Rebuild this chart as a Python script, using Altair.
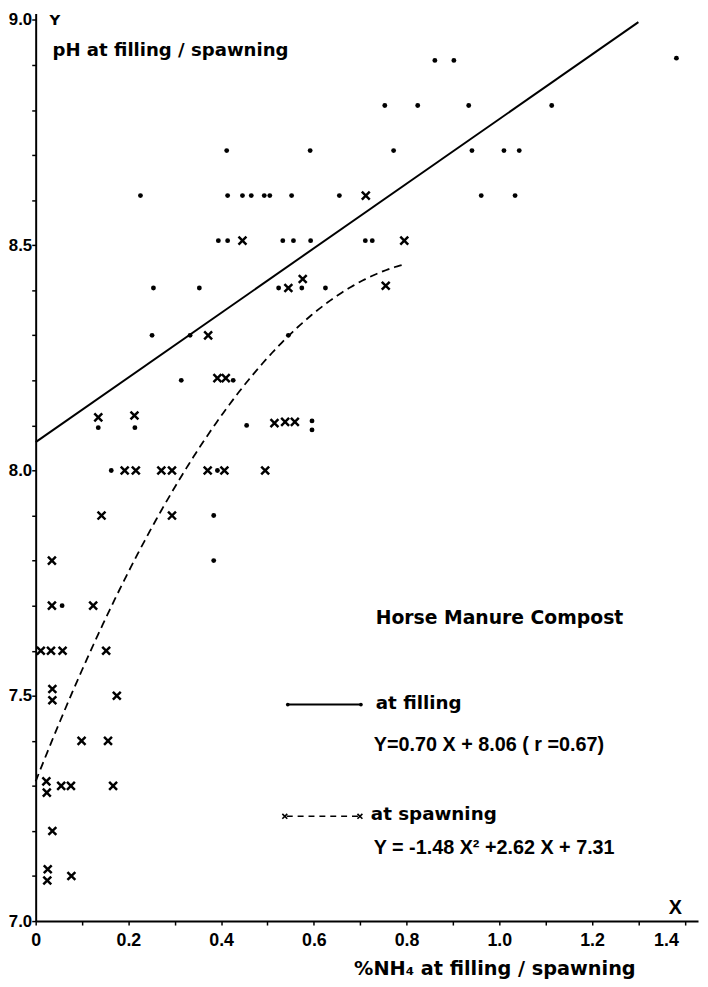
import altair as alt
import pandas as pd

# ---------------- data ----------------
# at filling (dots)
FILL_X = [0.861, 0.902, 1.382,
          0.753, 0.824, 0.934, 1.113,
          0.412, 0.592, 0.772, 0.941, 1.010, 1.043,
          0.226, 0.414, 0.446, 0.465, 0.493, 0.505, 0.552, 0.655, 0.961, 1.034,
          0.394, 0.414, 0.533, 0.556, 0.593, 0.711, 0.726,
          0.254, 0.353, 0.524, 0.574, 0.625,
          0.251, 0.333, 0.545,
          0.314, 0.426,
          0.135, 0.214, 0.455, 0.596, 0.596,
          0.163, 0.392,
          0.384,
          0.384,
          0.057]
FILL_Y = [8.91, 8.91, 8.915,
          8.81, 8.81, 8.81, 8.81,
          8.71, 8.71, 8.71, 8.71, 8.71, 8.71,
          8.61, 8.61, 8.61, 8.61, 8.61, 8.61, 8.61, 8.61, 8.61, 8.61,
          8.51, 8.51, 8.51, 8.51, 8.51, 8.51, 8.51,
          8.405, 8.405, 8.405, 8.405, 8.405,
          8.30, 8.30, 8.30,
          8.20, 8.20,
          8.095, 8.095, 8.10, 8.11, 8.09,
          8.00, 8.00,
          7.90,
          7.80,
          7.70]

# at spawning (crosses)
SPAWN_X = [0.712,
           0.446, 0.795,
           0.576,
           0.545, 0.755,
           0.372,
           0.392, 0.410,
           0.135, 0.213,
           0.515, 0.538, 0.559,
           0.192, 0.216, 0.271, 0.294, 0.371, 0.407, 0.495,
           0.142, 0.294,
           0.035,
           0.035, 0.124,
           0.011, 0.033, 0.058, 0.152,
           0.036, 0.036, 0.175,
           0.099, 0.156,
           0.023, 0.024, 0.055, 0.076, 0.167,
           0.036,
           0.026, 0.025, 0.077]
SPAWN_Y = [8.61,
           8.51, 8.51,
           8.425,
           8.405, 8.41,
           8.30,
           8.205, 8.205,
           8.118, 8.122,
           8.105, 8.108, 8.108,
           8.00, 8.00, 8.00, 8.00, 8.00, 8.00, 8.00,
           7.90, 7.90,
           7.80,
           7.70, 7.70,
           7.60, 7.60, 7.60, 7.60,
           7.515, 7.49, 7.50,
           7.40, 7.40,
           7.31, 7.285, 7.30, 7.30, 7.30,
           7.20,
           7.115, 7.09, 7.10]

# straight line "at filling" as drawn (end points)
FILL_LINE_X = [0.0, 1.30]
FILL_LINE_Y = [8.063, 8.995]
# curve "at spawning": Y = -1.48 X^2 + 2.62 X + 7.31, drawn from X = 0 to 0.795
SPAWN_COEF = [-1.48, 2.62, 7.31]
SPAWN_RANGE = [0.0, 0.795]

X_TICKS = [0.0, 0.1, 0.2, 0.3, 0.4, 0.5, 0.6, 0.7, 0.8, 0.9, 1.0, 1.1, 1.2, 1.3, 1.4]
Y_TICKS = [7.0, 7.1, 7.2, 7.3, 7.4, 7.5, 7.6, 7.7, 7.8, 7.9, 8.0,
           8.1, 8.2, 8.3, 8.4, 8.5, 8.6, 8.7, 8.8, 8.9, 9.0]

# ---------------- styling ----------------
NUM_FONT = "Liberation Sans"
TXT_FONT = "DejaVu Sans"
W, H = 670, 918
X_DOMAIN = [0, 1.4286]
Y_DOMAIN = [7.0, 9.014]
XSHAPE = "M-1,-1L1,1M1,-1L-1,1"

fill_df = pd.DataFrame({"x": FILL_X, "y": FILL_Y})
spawn_df = pd.DataFrame({"x": SPAWN_X, "y": SPAWN_Y})
fill_line_df = pd.DataFrame({"x": FILL_LINE_X, "y": FILL_LINE_Y})

xscale = alt.Scale(domain=X_DOMAIN, nice=False, zero=False)
yscale = alt.Scale(domain=Y_DOMAIN, nice=False, zero=False)

xaxis = alt.Axis(
    values=X_TICKS,
    labelExpr="abs(round(datum.value*10) % 2) == 1 ? '' : (datum.value == 0 ? '0' : format(datum.value, '.1f'))",
    labelOffset={"condition": {"test": "datum.value > 1.35", "value": -19}, "value": 0},
    grid=False, tickSize=4, tickWidth=1.5, tickColor="black",
    domainColor="black", domainWidth=2,
    labelFont=NUM_FONT, labelFontSize=18, labelFontWeight="bold", labelColor="black",
    labelPadding=7, labelFlush=False, labelOverlap=False,
    title="%NH\u2084 at filling / spawning",
    titleFont=TXT_FONT, titleFontSize=19.5, titleFontWeight="bold", titleColor="black",
    titleX=464, titleY=54, titleBaseline="alphabetic", titleAlign="center", titleAnchor="start",
)
yaxis = alt.Axis(
    values=Y_TICKS,
    labelExpr="abs(round(datum.value*10) % 5) == 0 ? format(datum.value, '.1f') : ''",
    grid=False, tickSize=4, tickWidth=1.5, tickColor="black",
    domainColor="black", domainWidth=2,
    labelFont=NUM_FONT, labelFontSize=17, labelFontWeight="bold", labelColor="black",
    labelPadding=0, labelFlush=False, labelOverlap=False,
    title=None,
)

fill_pts = alt.Chart(fill_df).mark_point(
    shape="circle", filled=True, size=24, color="black", opacity=1
).encode(
    x=alt.X("x:Q", scale=xscale, axis=xaxis),
    y=alt.Y("y:Q", scale=yscale, axis=yaxis),
)

spawn_pts = alt.Chart(spawn_df).mark_point(
    shape=XSHAPE, filled=False, size=64, strokeWidth=2.5, color="black", opacity=1
).encode(
    x=alt.X("x:Q", scale=xscale),
    y=alt.Y("y:Q", scale=yscale),
)

fill_line = alt.Chart(fill_line_df).mark_line(color="black", strokeWidth=2).encode(
    x=alt.X("x:Q", scale=xscale),
    y=alt.Y("y:Q", scale=yscale),
)

spawn_line = alt.Chart(alt.sequence(SPAWN_RANGE[0], SPAWN_RANGE[1] + 0.001, 0.005, as_="x")).transform_calculate(
    y=f"{SPAWN_COEF[0]} * datum.x * datum.x + {SPAWN_COEF[1]} * datum.x + {SPAWN_COEF[2]}"
).mark_line(color="black", strokeWidth=1.8, strokeDash=[8, 5]).encode(
    x=alt.X("x:Q", scale=xscale),
    y=alt.Y("y:Q", scale=yscale),
)

ONE = alt.Data(values=[{}])
OY = 8  # page y of plot top


def label(txt, x, y, size=17, font=TXT_FONT, weight="bold", align="left", baseline="middle"):
    # x, y given as page pixels; converted to plot coordinates
    return alt.Chart(ONE).mark_text(
        text=txt, font=font, fontSize=size, fontWeight=weight,
        align=align, baseline=baseline, color="black"
    ).encode(x=alt.value(x - 36), y=alt.value(y - OY))


def marker(x, y, shape, size, filled, sw=1.5):
    return alt.Chart(ONE).mark_point(
        shape=shape, size=size, filled=filled, strokeWidth=sw, color="black", opacity=1
    ).encode(x=alt.value(x - 36), y=alt.value(y - OY))


def hrule(x1, x2, y, sw, dash=None):
    kw = dict(color="black", strokeWidth=sw)
    if dash:
        kw["strokeDash"] = dash
    return alt.Chart(ONE).mark_rule(**kw).encode(
        x=alt.value(x1 - 36), x2=alt.value(x2 - 36), y=alt.value(y - OY))


annotations = [
    label("Y", 50, 15, size=15),
    label("pH at filling / spawning", 53, 46, size=18.3),
    label("Horse Manure Compost", 380, 619, size=19),
    label("at filling", 380, 705, size=18.5),
    label("Y=0.70 X + 8.06 ( r =0.67)", 378, 748, size=20, font=NUM_FONT),
    label("at spawning", 375, 818, size=18.5),
    label("Y = -1.48 X\u00b2 +2.62 X + 7.31", 378, 852, size=20, font=NUM_FONT),
    label("X", 683, 913, size=20, font=NUM_FONT, align="center"),
    # legend keys
    hrule(291, 365, 707, 2),
    marker(291, 707, "circle", 14, True),
    marker(365, 707, "circle", 14, True),
    hrule(290, 362, 820, 1.6, [6, 5]),
    marker(288, 820, XSHAPE, 25, False, 1.6),
    marker(364, 820, XSHAPE, 25, False, 1.6),
]

chart = alt.layer(fill_line, spawn_line, fill_pts, spawn_pts, *annotations).properties(
    width=W, height=H,
    autosize=alt.AutoSizeParams(type="none"),
    padding={"left": 28, "top": 0, "right": 2, "bottom": 58},
    background="white",
).configure_view(stroke=None)

chart.save("out.html", embed_options={"renderer": "svg", "actions": False})
